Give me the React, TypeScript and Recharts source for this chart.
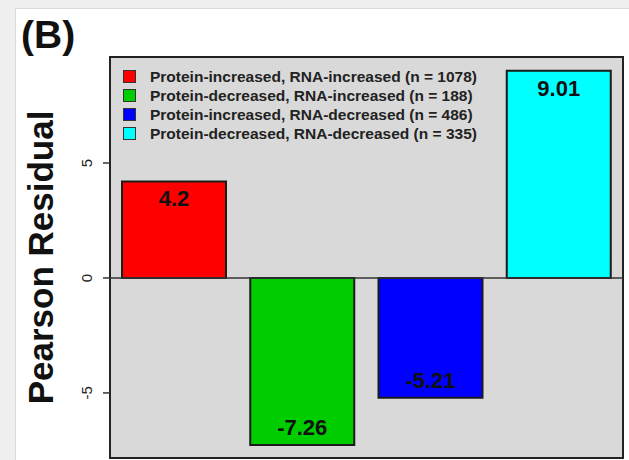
import { BarChart, Bar, XAxis, YAxis, Cell, CartesianGrid, ReferenceLine, ReferenceArea, LabelList } from "recharts";

const categories = [
	"Protein-increased, RNA-increased (n = 1078)",
	"Protein-decreased, RNA-increased (n = 188)",
	"Protein-increased, RNA-decreased (n = 486)",
	"Protein-decreased, RNA-decreased (n = 335)",
];
const residuals = [4.2, -7.26, -5.21, 9.01];
const colors = ["#ff0000", "#00cd00", "#0000ff", "#00ffff"];
const yTicks = [-5, 0, 5];
const yDomain: [number, number] = [-7.83, 9.61];

const data = categories.map((name, i) => ({ name, value: residuals[i] }));

const FONT = "'Liberation Sans', Arial, sans-serif";

const RotatedTick = (props: any) => {
	const { x, y, payload } = props;
	return (
		<text
			x={x - 9}
			y={y}
			transform={`rotate(-90, ${x - 9}, ${y})`}
			textAnchor="middle"
			fontSize={15}
			fontFamily={FONT}
			fill="#222"
		>
			{payload.value}
		</text>
	);
};

const BarValue = (props: any) => {
	const { x, y, width, height, value } = props;
	const top = Math.min(y, y + height);
	const bottom = Math.max(y, y + height);
	const ty = value >= 0 ? top + 25 : bottom - 10;
	return (
		<text
			x={x + width / 2}
			y={ty}
			textAnchor="middle"
			fontSize={22}
			fontWeight="bold"
			fontFamily={FONT}
			fill="#111"
		>
			{value}
		</text>
	);
};

export default function App() {
	return (
		<div
			style={{
				position: "absolute",
				left: 0,
				top: 0,
				width: 629,
				height: 460,
				overflow: "hidden",
				background: "#efefef",
				fontFamily: FONT,
			}}
		>
			<div
				style={{
					position: "absolute",
					left: 15,
					top: 8,
					width: 620,
					height: 460,
					background: "#fff",
					borderLeft: "1px solid #dcdcdc",
					borderTop: "1px solid #dcdcdc",
				}}
			/>
			<div
				style={{
					position: "absolute",
					left: 21,
					top: 12,
					fontSize: 39,
					fontWeight: "bold",
					color: "#111",
					lineHeight: "46px",
				}}
			>
				(B)
			</div>
			<div style={{ position: "absolute", left: 0, top: 0 }}>
				<BarChart
					width={629}
					height={460}
					data={data}
					margin={{ top: 57, right: 6, bottom: 2, left: 50 }}
				>
					<CartesianGrid fill="#d9d9d9" horizontal={false} vertical={false} />
					<XAxis dataKey="name" hide />
					<YAxis
						width={60}
						domain={yDomain}
						ticks={yTicks}
						allowDataOverflow
						axisLine={false}
						tickSize={7}
						tickLine={{ stroke: "#333", strokeWidth: 1.5 }}
						tick={<RotatedTick />}
						label={{
							content: (p: any) => {
								const vb = p.viewBox;
								const cy = vb.y + vb.height / 2;
								return (
									<text
										x={53}
										y={cy}
										transform={`rotate(-90, 53, ${cy})`}
										textAnchor="middle"
										fontSize={35}
										fontWeight="bold"
										fontFamily={FONT}
										fill="#111"
									>
										Pearson Residual
									</text>
								);
							},
						}}
					/>
					<ReferenceLine y={0} stroke="#333" strokeWidth={1.5} />
					<Bar
						dataKey="value"
						barSize={104}
						stroke="#1a1a1a"
						strokeWidth={2}
						isAnimationActive={false}
					>
						{data.map((d, i) => (
							<Cell key={d.name} fill={colors[i]} />
						))}
						<LabelList dataKey="value" content={<BarValue />} />
					</Bar>
					<ReferenceArea
						y1={yDomain[0]}
						y2={yDomain[1]}
						fill="none"
						stroke="#222"
						strokeWidth={2}
						ifOverflow="visible"
					/>
				</BarChart>
			</div>
			<div
				style={{
					position: "absolute",
					left: 123,
					top: 67,
					fontSize: 15.5,
					fontWeight: "bold",
					color: "#222",
					whiteSpace: "nowrap",
				}}
			>
				{categories.map((c, i) => (
					<div key={c} style={{ display: "flex", alignItems: "center", height: 19 }}>
						<span
							style={{
								display: "inline-block",
								width: 11,
								height: 11,
								background: colors[i],
								border: "1px solid #333",
								marginRight: 14,
							}}
						/>
						<span>{c}</span>
					</div>
				))}
			</div>
		</div>
	);
}
